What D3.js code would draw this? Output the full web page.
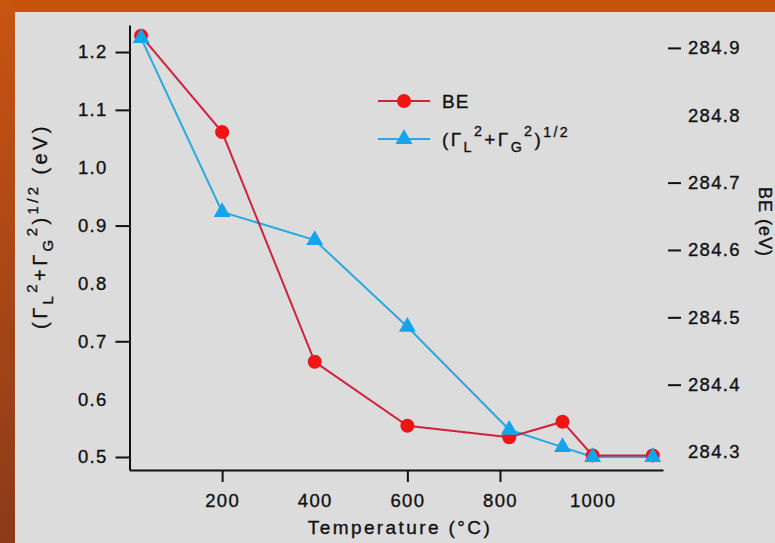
<!DOCTYPE html>
<html>
<head>
<meta charset="utf-8">
<script src="https://cdn.jsdelivr.net/npm/d3@7"></script>
<style>
  html, body { margin: 0; padding: 0; background: #dcdcdc; }
  svg { display: block; }
  text { font-family: "Liberation Sans", Arial, sans-serif; fill: #111; stroke: #111; stroke-width: 0.35px; }
</style>
</head>
<body>
<svg id="chart" width="775" height="543"></svg>
<script>
// ---- data ----
const temps = [25, 200, 400, 600, 820, 935, 1000, 1130];
const beValues = [284.918, 284.775, 284.434, 284.339, 284.322, 284.345, 284.295, 284.295];
const widthValues = [1.224, 0.9235, 0.875, 0.725, 0.547, 0.517, 0.5, 0.5];

const xTickLabels = [200, 400, 600, 800, 1000];
const xTickMarks = [200, 600, 800];
const leftTickLabels = [1.2, 1.1, 1.0, 0.9, 0.8, 0.7, 0.6, 0.5];
const leftTickMarks = [1.2, 1.1, 0.9, 0.7, 0.5];
const rightTickLabels = [284.9, 284.8, 284.7, 284.6, 284.5, 284.4, 284.3];
const rightTickMarks = [284.9, 284.7, 284.6, 284.5, 284.4];

const seriesColors = { be: "#f01414", beLine: "#d0203c", width: "#14a4ec", widthLine: "#2aa8e0" };

// ---- layout ----
const svg = d3.select("#chart");
const W = 775, H = 543;
const x0 = 129.5, x1 = 663, yTop = 25, yBot = 470;

// background + orange frame
svg.append("rect").attr("width", W).attr("height", H).attr("fill", "#dcdcdc");
const defs = svg.append("defs");
const grad = defs.append("linearGradient").attr("id", "lb").attr("x1", 0).attr("y1", 0).attr("x2", 0).attr("y2", 1);
grad.append("stop").attr("offset", "0%").attr("stop-color", "#c95410");
grad.append("stop").attr("offset", "100%").attr("stop-color", "#8c3a1a");
svg.append("rect").attr("x", 0).attr("y", 0).attr("width", W).attr("height", 12).attr("fill", "#c9520a");
svg.append("rect").attr("x", 0).attr("y", 0).attr("width", 15).attr("height", H).attr("fill", "url(#lb)");

// ---- scales ----
const x = d3.scaleLinear().domain([0, 1152]).range([x0, x1]);
const yL = d3.scaleLinear().domain([0.4775, 1.2467]).range([yBot, yTop]);
const yR = d3.scaleLinear().domain([284.2733, 284.934]).range([yBot, yTop]);

const fmt1 = d3.format(".1f");

// ---- left axis ----
const gL = svg.append("g").attr("transform", `translate(${x0},0)`);
gL.call(d3.axisLeft(yL).tickValues(leftTickMarks).tickSize(14).tickSizeOuter(0).tickFormat(""));
const gLl = svg.append("g").attr("class", "lbl").attr("transform", `translate(${x0},0)`);
gLl.call(d3.axisLeft(yL).tickValues(leftTickLabels).tickSize(0).tickPadding(22).tickFormat(fmt1));
gLl.select(".domain").remove();

// ---- right axis (no line) ----
const rx = 668;
const gR = svg.append("g").attr("transform", `translate(${rx},0)`);
gR.call(d3.axisRight(yR).tickValues(rightTickMarks).tickSize(13).tickFormat(""));
gR.select(".domain").remove();
const gRl = svg.append("g").attr("class", "lbl").attr("transform", `translate(${rx},0)`);
gRl.call(d3.axisRight(yR).tickValues(rightTickLabels).tickSize(0).tickPadding(20).tickFormat(fmt1));
gRl.select(".domain").remove();

// ---- bottom axis ----
const gB = svg.append("g").attr("transform", `translate(0,${yBot})`);
gB.call(d3.axisBottom(x).tickValues(xTickMarks).tickSize(12).tickSizeOuter(0).tickFormat(""));
const gBl = svg.append("g").attr("class", "lbl").attr("transform", `translate(0,${yBot})`);
gBl.call(d3.axisBottom(x).tickValues(xTickLabels).tickSize(0).tickPadding(24).tickFormat(d3.format("d")));
gBl.select(".domain").remove();

svg.selectAll(".domain, .tick line").attr("stroke", "#111").attr("stroke-width", 2);
svg.selectAll(".tick text").attr("font-size", 18.5).attr("fill", "#111")
  .style("font-family", '"Liberation Sans", Arial, sans-serif').attr("letter-spacing", 1.3);

// ---- axis titles ----
svg.append("text").attr("x", 400).attr("y", 534)
  .attr("text-anchor", "middle").attr("font-size", 19).attr("letter-spacing", 2.4)
  .text("Temperature (°C)");

function gammaText(t, size) {
  const s = size * 0.75;
  t.append("tspan").text("(Γ");
  t.append("tspan").attr("font-size", s).attr("dy", 6).text("L");
  t.append("tspan").attr("font-size", s).attr("dy", -16).text("2");
  t.append("tspan").attr("dy", 10).text("+Γ");
  t.append("tspan").attr("font-size", s).attr("dy", 6).text("G");
  t.append("tspan").attr("font-size", s).attr("dy", -16).text("2");
  t.append("tspan").attr("dy", 10).text(")");
  t.append("tspan").attr("font-size", s).attr("dy", -9).text("1/2");
}
const lt = svg.append("text").attr("transform", "translate(47,226) rotate(-90)")
  .attr("text-anchor", "middle").attr("font-size", 20).attr("letter-spacing", 3.4);
gammaText(lt, 20);
lt.append("tspan").attr("dy", 9).text(" (eV)");

svg.append("text").attr("transform", "translate(759,222) rotate(90)")
  .attr("text-anchor", "middle").attr("font-size", 18).attr("letter-spacing", 1).text("BE (eV)");

// ---- lines & markers ----
const lineW = d3.line().x((d, i) => x(temps[i])).y(d => yL(d));
const lineB = d3.line().x((d, i) => x(temps[i])).y(d => yR(d));

svg.append("path").datum(widthValues).attr("d", lineW)
  .attr("fill", "none").attr("stroke", seriesColors.widthLine).attr("stroke-width", 2);
svg.append("path").datum(beValues).attr("d", lineB)
  .attr("fill", "none").attr("stroke", seriesColors.beLine).attr("stroke-width", 2);

svg.append("g").selectAll("circle").data(beValues).join("circle")
  .attr("cx", (d, i) => x(temps[i])).attr("cy", d => yR(d)).attr("r", 7)
  .attr("fill", seriesColors.be);

const tri = d3.symbol().type(d3.symbolTriangle).size(125);
svg.append("g").selectAll("path").data(widthValues).join("path")
  .attr("d", tri)
  .attr("transform", (d, i) => `translate(${x(temps[i])},${yL(d)})`)
  .attr("fill", seriesColors.width);

// ---- legend ----
const lg = svg.append("g");
lg.append("line").attr("x1", 378).attr("x2", 430).attr("y1", 101).attr("y2", 101)
  .attr("stroke", seriesColors.beLine).attr("stroke-width", 2);
lg.append("circle").attr("cx", 404).attr("cy", 101).attr("r", 7).attr("fill", seriesColors.be);
lg.append("text").attr("x", 442).attr("y", 108).attr("font-size", 19).attr("letter-spacing", 1).text("BE");

lg.append("line").attr("x1", 378).attr("x2", 430).attr("y1", 139).attr("y2", 139)
  .attr("stroke", seriesColors.widthLine).attr("stroke-width", 2);
lg.append("path").attr("d", tri).attr("transform", "translate(404,139)").attr("fill", seriesColors.width);
const lgt = lg.append("text").attr("x", 442).attr("y", 146).attr("font-size", 19).attr("letter-spacing", 2.4);
gammaText(lgt, 19);
</script>
</body>
</html>
